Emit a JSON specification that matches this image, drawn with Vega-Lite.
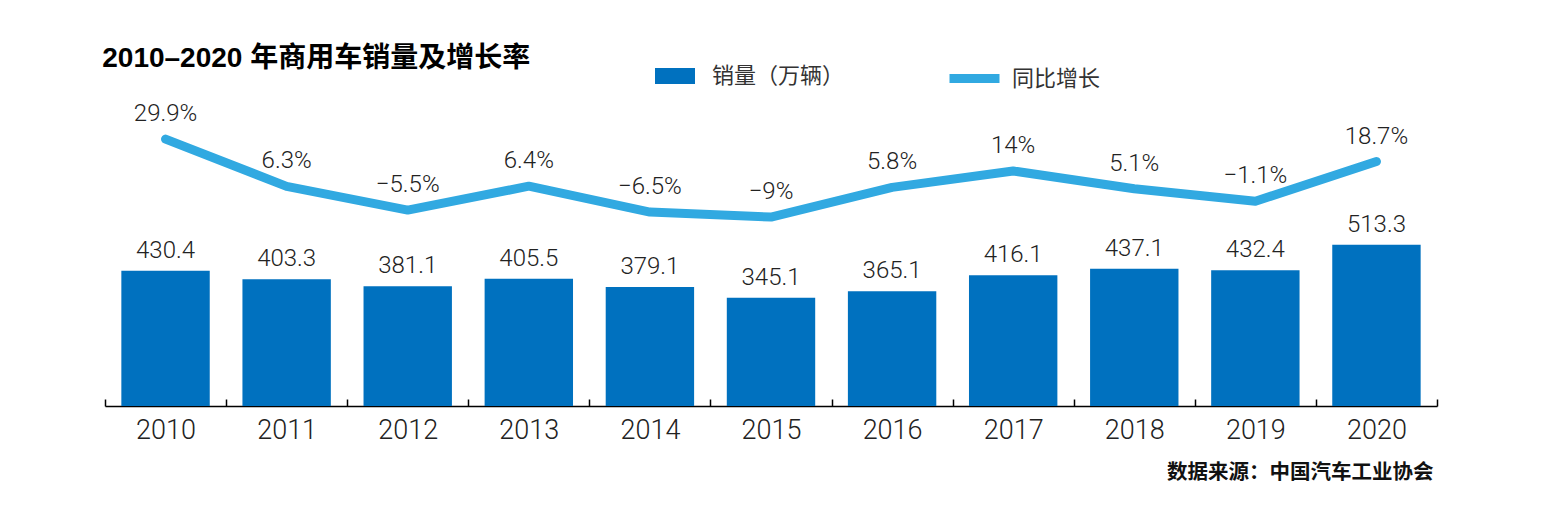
{
  "$schema": "https://vega.github.io/schema/vega-lite/v6.json",
  "width": 1332,
  "height": 296,
  "autosize": {"type": "none"},
  "padding": {"left": 105, "top": 110, "right": 109, "bottom": 119},
  "background": "white",
  "title": {
    "text": "2010–2020 年商用车销量及增长率",
    "anchor": "start",
    "font": "Liberation Sans, Noto Sans CJK SC",
    "fontSize": 28,
    "fontWeight": "bold",
    "color": "#000000",
    "offset": -46,
    "baseline": "alphabetic",
    "dx": -2
  },
  "data": {
    "values": [
      {"year": "2010", "sales": 430.4, "growth": 29.9},
      {"year": "2011", "sales": 403.3, "growth": 6.3},
      {"year": "2012", "sales": 381.1, "growth": -5.5},
      {"year": "2013", "sales": 405.5, "growth": 6.4},
      {"year": "2014", "sales": 379.1, "growth": -6.5},
      {"year": "2015", "sales": 345.1, "growth": -9},
      {"year": "2016", "sales": 365.1, "growth": 5.8},
      {"year": "2017", "sales": 416.1, "growth": 14},
      {"year": "2018", "sales": 437.1, "growth": 5.1},
      {"year": "2019", "sales": 432.4, "growth": -1.1},
      {"year": "2020", "sales": 513.3, "growth": 18.7}
    ]
  },
  "encoding": {
    "x": {
      "field": "year",
      "type": "ordinal",
      "scale": {"paddingInner": 0, "paddingOuter": 0},
      "axis": {
        "title": "数据来源：中国汽车工业协会",
        "titleAnchor": "end",
        "titleAlign": "right",
        "titleX": 1328,
        "titleFont": "Noto Sans CJK SC",
        "titleFontSize": 20.5,
        "titleFontWeight": "bold",
        "titleColor": "#111111",
        "titlePadding": 19,
        "labelAngle": 0,
        "labelFont": "Roboto",
        "labelFontWeight": 300,
        "labelFontSize": 27,
        "labelColor": "#222222",
        "labelPadding": 18,
        "tickBand": "extent",
        "tickSize": -7,
        "tickColor": "#000000",
        "tickWidth": 1.5,
        "domainColor": "#000000",
        "domainWidth": 1.5,
        "grid": false
      }
    }
  },
  "layer": [
    {
      "layer": [
        {
          "mark": {"type": "bar", "width": {"band": 0.73}},
          "encoding": {
            "y": {"field": "sales", "type": "quantitative", "scale": {"domain": [0, 942.7], "nice": false, "zero": true}, "axis": null},
            "color": {
              "datum": "销量（万辆）",
              "type": "nominal",
              "scale": {"range": ["#0071BF"]},
              "legend": {
                "orient": "none",
                "legendX": 550,
                "legendY": -54,
                "title": null,
                "symbolType": "M-1,-0.4H1V0.4H-1Z",
                "symbolSize": 1600,
                "symbolStrokeWidth": 0,
                "labelFont": "Noto Sans CJK SC",
                "labelFontSize": 22,
                "labelColor": "#333333",
                "labelOffset": 17,
                "padding": 0
              }
            }
          }
        },
        {
          "mark": {"type": "text", "dy": -13, "baseline": "alphabetic", "font": "Roboto", "fontWeight": 300, "fontSize": 24, "color": "#222222"},
          "encoding": {
            "y": {"field": "sales", "type": "quantitative"},
            "text": {"field": "sales", "type": "quantitative", "format": ".1f"}
          }
        }
      ]
    },
    {
      "layer": [
        {
          "mark": {"type": "line", "strokeWidth": 9, "strokeCap": "round", "strokeJoin": "round"},
          "encoding": {
            "y": {"field": "growth", "type": "quantitative", "scale": {"domain": [-103.2, 44.4], "nice": false, "zero": false}, "axis": null},
            "stroke": {
              "datum": "同比增长",
              "type": "nominal",
              "scale": {"range": ["#31A9E1"]},
              "legend": {
                "orient": "none",
                "legendX": 840,
                "legendY": -61,
                "title": null,
                "symbolSize": 2500,
                "symbolStrokeWidth": 9,
                "labelFont": "Noto Sans CJK SC",
                "labelFontSize": 22,
                "labelColor": "#333333",
                "labelOffset": 8,
                "padding": 0
              }
            }
          }
        },
        {
          "mark": {"type": "text", "dy": -18, "baseline": "alphabetic", "font": "Roboto", "fontWeight": 300, "fontSize": 24, "color": "#222222", "text": {"expr": "format(datum.growth, '.1~f') + '%'"}},
          "encoding": {
            "y": {"field": "growth", "type": "quantitative"}
          }
        }
      ]
    }
  ],
  "resolve": {"scale": {"y": "independent", "color": "independent", "stroke": "independent"}},
  "config": {"view": {"stroke": null}}
}
